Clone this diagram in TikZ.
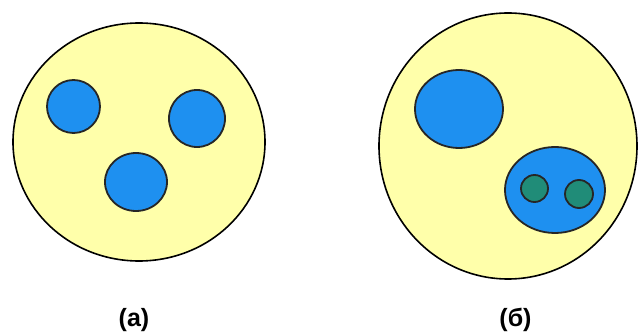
\documentclass[tikz,border=0pt]{standalone}
\usepackage{fontspec}
\setmainfont{Liberation Sans}
\definecolor{cellyellow}{RGB}{255,255,170}
\definecolor{cellblue}{RGB}{30,144,240}
\definecolor{cellgreen}{RGB}{32,140,120}
\begin{document}
\begin{tikzpicture}[x=1pt,y=1pt,
  outer/.style={fill=cellyellow,draw=black,line width=1.6pt},
  inner/.style={fill=cellblue,draw=black!85,line width=1.8pt},
  tiny/.style={fill=cellgreen,draw=black!85,line width=1.8pt},
  lab/.style={font=\bfseries\fontsize{25}{28}\selectfont,inner sep=0pt}]
\useasboundingbox (0,0) rectangle (638,335);
% left cell
\draw[outer] (139,193) ellipse [x radius=126, y radius=119];
\draw[inner] (73.5,228.5) ellipse [x radius=26.5, y radius=26.5];
\draw[inner] (197,216.5) ellipse [x radius=28, y radius=28.5];
\draw[inner] (136,153) ellipse [x radius=31, y radius=29];
\node[lab] (la) at (134,15) {(a)};
% right cell
\draw[outer] (508,189) ellipse [x radius=129, y radius=133];
\draw[inner] (459,226) ellipse [x radius=44, y radius=39];
\draw[inner] (555,145) ellipse [x radius=50, y radius=43];
\draw[tiny] (534.5,146.5) ellipse [x radius=13.5, y radius=13.5];
\draw[tiny] (579,141) ellipse [x radius=14, y radius=14];
\node[lab] (lb) at (515.5,15) {(б)};
\end{tikzpicture}
\end{document}
